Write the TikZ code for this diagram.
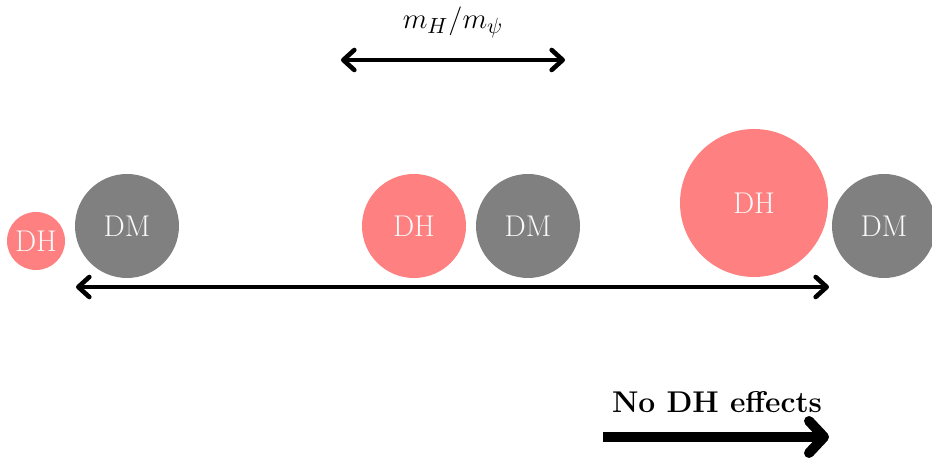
\documentclass[tikz,border=0pt]{standalone}
\usetikzlibrary{arrows.meta}
\begin{document}
\begin{tikzpicture}[x=0.5pt,y=-0.5pt,
  bigfont/.style={font=\fontsize{15}{18}\selectfont},
  dh/.style={circle,fill=red!50,draw=none,inner sep=0pt,text=white!95!gray,bigfont},
  dm/.style={circle,fill=gray,draw=none,inner sep=0pt,text=white!95!gray,bigfont},
  thinarrow/.style={line width=2.3pt,{Straight Barb[length=5.5pt,width=10pt,line cap=round,line join=round]}-{Straight Barb[length=5.5pt,width=10pt,line cap=round,line join=round]}},
  thickarrow/.style={line width=5pt,-{Straight Barb[length=7.5pt,width=16pt,line cap=round,line join=round]}},
  lbl/.style={bigfont,inner sep=0pt}]
\useasboundingbox (0,0) rectangle (932,458);
\clip (0,0) rectangle (932,458);
\node[dh,minimum size=29pt] (dh1) at (36,241) {DH};
\node[dm,minimum size=52pt] (dm1) at (127,226) {DM};
\node[dh,minimum size=52pt] (dh2) at (414,226) {DH};
\node[dm,minimum size=52pt] (dm2) at (528,226) {DM};
\node[dh,minimum size=74pt] (dh3) at (754,203) {DH};
\node[dm,minimum size=52pt] (dm3) at (884,226) {DM};
\coordinate (ml) at (76,287);
\coordinate (mr) at (829,287);
\draw[thinarrow] (ml) -- (mr);
\coordinate (tl) at (341,60);
\coordinate (tr) at (565,60);
\draw[thinarrow] (tl) -- (tr);
\node[lbl] (ratio) at (453,22) {$m_H/m_\psi$};
\coordinate (bl) at (603,437);
\coordinate (br) at (829,437);
\draw[thickarrow] (bl) -- (br);
\node[lbl] (nodh) at (717,402) {\textbf{No DH effects}};
\end{tikzpicture}
\end{document}
